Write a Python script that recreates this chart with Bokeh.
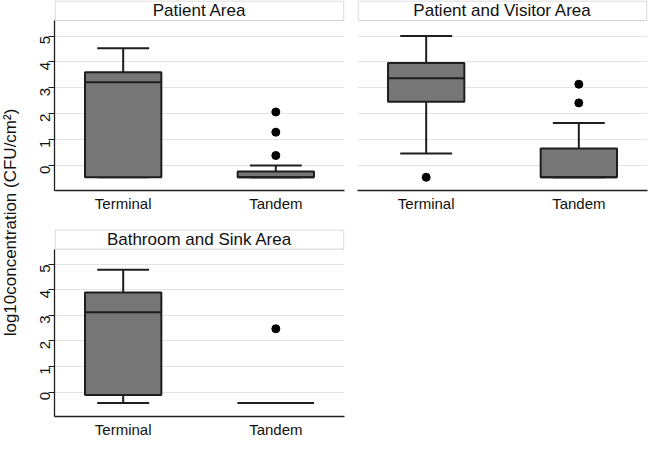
import math
from bokeh.plotting import figure
from bokeh.layouts import row, column
from bokeh.models import FixedTicker, ColumnDataSource
from bokeh.embed import file_html
from bokeh.resources import INLINE
from bokeh.core.properties import value

# ---------------- data ----------------
areas = ["Patient Area", "Patient and Visitor Area", "Bathroom and Sink Area"]
groups = ["Terminal", "Tandem"]
lower_whisker = [[-0.45, -0.45], [0.47, -0.45], [-0.43, -0.43]]
q1 = [[-0.45, -0.45], [2.46, -0.45], [-0.12, -0.43]]
median = [[3.22, -0.45], [3.37, -0.45], [3.13, -0.43]]
q3 = [[3.60, -0.23], [3.96, 0.66], [3.90, -0.43]]
upper_whisker = [[4.53, 0.00], [5.00, 1.64], [4.79, -0.43]]
outliers = [[[], [0.39, 1.29, 2.07]], [[-0.45], [2.42, 3.14]], [[], [2.48]]]
y_ticks = [0, 1, 2, 3, 4, 5]
y_title = "log10concentration (CFU/cm\u00b2)"

# ---------------- style ----------------
FONT = "Liberation Sans"
BOX_FILL = "#767676"
DARK = "#1e1e1e"
GRID = "#e3e3e3"
HEADER_LINE = "#d2d2d2"
X_LO, X_HI = 0.55, 2.45
Y_LO, Y_HI = -0.96, 6.37
HEAD_LO = 5.6
BOX_W = 0.5
CAP_W = 0.34


def make_panel(i, show_y, width, height, mbl, mbr, mbt, mbb):
    p = figure(width=width, height=height, x_range=(X_LO, X_HI), y_range=(Y_LO, Y_HI),
               output_backend="svg", toolbar_location=None,
               min_border_left=mbl, min_border_right=mbr,
               min_border_top=mbt, min_border_bottom=mbb)
    p.outline_line_color = None
    p.background_fill_color = "white"
    p.border_fill_color = "white"
    p.xgrid.visible = False
    p.ygrid.ticker = FixedTicker(ticks=y_ticks)
    p.ygrid.grid_line_color = GRID
    p.ygrid.grid_line_width = 1

    # header strip
    p.quad(left=[X_LO + 0.004], right=[X_HI - 0.004], bottom=[HEAD_LO], top=[Y_HI - 0.02],
           fill_color="white", line_color=HEADER_LINE, line_width=1)
    p.text(x=[(X_LO + X_HI) / 2], y=[(HEAD_LO + Y_HI) / 2], text=[areas[i]],
           text_align="center", text_baseline="middle",
           text_font=value(FONT), text_font_size="17px", text_color="#111111")

    xs = [j + 1 for j in range(len(groups))]
    src = ColumnDataSource(dict(
        x=xs,
        left=[x - BOX_W / 2 for x in xs], right=[x + BOX_W / 2 for x in xs],
        cl=[x - CAP_W / 2 for x in xs], cr=[x + CAP_W / 2 for x in xs],
        lw=lower_whisker[i], q1=q1[i], med=median[i], q3=q3[i], uw=upper_whisker[i],
    ))
    # whiskers
    p.segment(x0="x", y0="q3", x1="x", y1="uw", source=src, line_color=DARK, line_width=2)
    p.segment(x0="x", y0="q1", x1="x", y1="lw", source=src, line_color=DARK, line_width=2)
    p.segment(x0="cl", y0="uw", x1="cr", y1="uw", source=src, line_color=DARK, line_width=2)
    p.segment(x0="cl", y0="lw", x1="cr", y1="lw", source=src, line_color=DARK, line_width=2)
    # box
    p.quad(left="left", right="right", bottom="q1", top="q3", source=src,
           fill_color=BOX_FILL, line_color=DARK, line_width=2)
    p.segment(x0="left", y0="med", x1="right", y1="med", source=src, line_color=DARK, line_width=2)
    # outliers
    ox, oy = [], []
    for j, vals in enumerate(outliers[i]):
        for v in vals:
            ox.append(xs[j])
            oy.append(v)
    if ox:
        p.scatter(x=ox, y=oy, size=8, color="black")

    # x axis
    p.xaxis.ticker = FixedTicker(ticks=xs)
    p.xaxis.major_label_overrides = {x: g for x, g in zip(xs, groups)}
    p.xaxis.major_tick_line_color = None
    p.xaxis.minor_tick_line_color = None
    p.xaxis.major_tick_out = 0
    p.xaxis.major_tick_in = 0
    p.xaxis.axis_line_color = DARK
    p.xaxis.axis_line_width = 1.3
    p.xaxis.major_label_standoff = 4
    p.xaxis.major_label_text_font = FONT
    p.xaxis.major_label_text_font_size = "15px"
    p.xaxis.major_label_text_color = "#111111"

    # y axis
    if show_y:
        p.yaxis.ticker = FixedTicker(ticks=y_ticks)
        p.yaxis.bounds = (Y_LO, HEAD_LO)
        p.yaxis.minor_tick_line_color = None
        p.yaxis.major_tick_out = 6
        p.yaxis.major_tick_in = 0
        p.yaxis.major_tick_line_color = DARK
        p.yaxis.axis_line_color = DARK
        p.yaxis.axis_line_width = 1.3
        p.yaxis.major_label_orientation = math.pi / 2
        p.yaxis.major_label_standoff = 3
        p.yaxis.major_label_text_font = FONT
        p.yaxis.major_label_text_font_size = "15px"
        p.yaxis.major_label_text_color = "#111111"
    else:
        p.yaxis.visible = False
    return p


p1 = make_panel(0, True, 326, 220, 30, 6, 0, 30)
p2 = make_panel(1, False, 298, 220, 7, 1, 0, 30)
p3 = make_panel(2, True, 326, 220, 30, 6, 9, 21)

lab = figure(width=24, height=440, x_range=(0, 24), y_range=(0, 440),
             output_backend="svg", toolbar_location=None, min_border=0)
lab.axis.visible = False
lab.grid.visible = False
lab.outline_line_color = None
lab.text(x=[10], y=[218], text=[y_title], angle=math.pi / 2,
         text_align="center", text_baseline="middle",
         text_font=value(FONT), text_font_size="17px", text_color="#111111")

layout = row(lab, column(row(p1, p2), p3))

with open("out.html", "w") as f:
    f.write(file_html(layout, INLINE))
